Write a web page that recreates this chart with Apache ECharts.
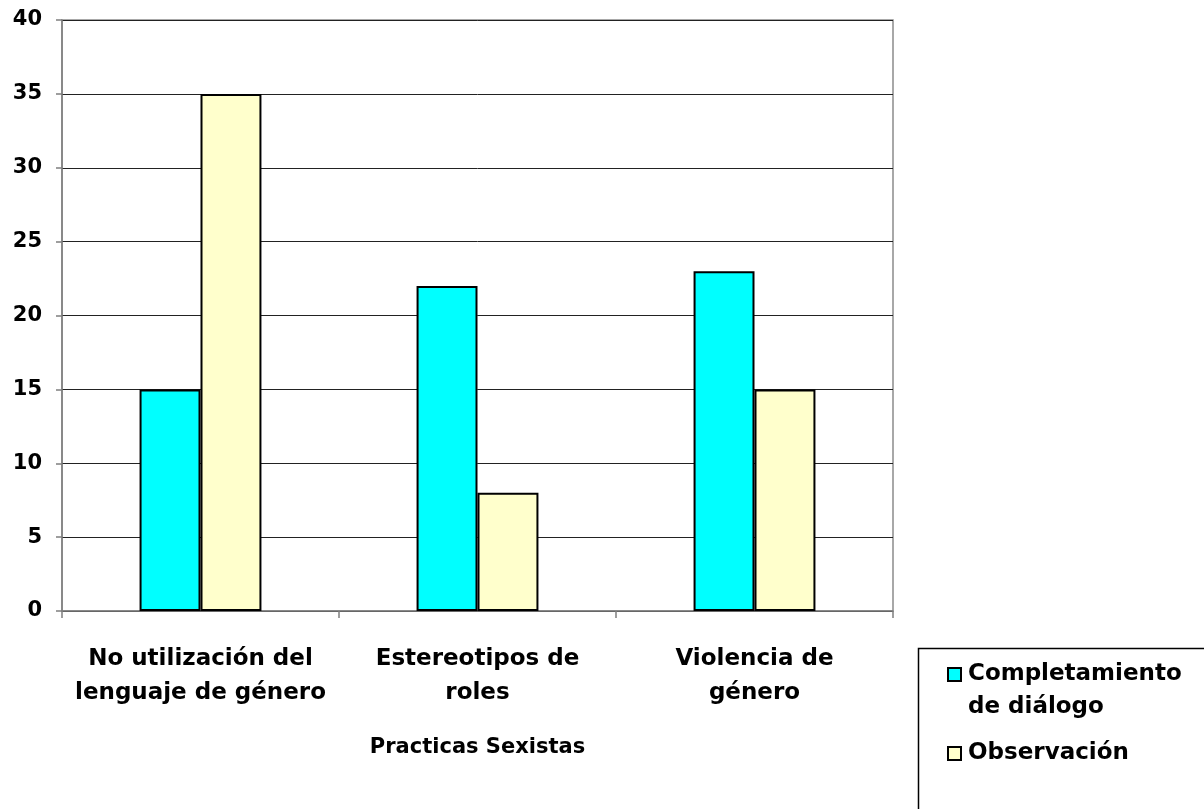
<!DOCTYPE html>
<html>
<head>
<meta charset="utf-8">
<script src="https://cdn.jsdelivr.net/npm/echarts@6/dist/echarts.min.js"></script>
<style>html,body{margin:0;padding:0;background:#fff;}#c{width:1204px;height:809px;}</style>
</head>
<body>
<div id="c"></div>
<script>
const categories = ['No utilización del\nlenguaje de género', 'Estereotipos de\nroles', 'Violencia de\ngénero'];
const completamiento = [15, 22, 23];
const observacion = [35, 8, 15];
const seriesNames = ['Completamiento de diálogo', 'Observación'];
const yTicks = { min: 0, max: 40, interval: 5 };
const xAxisTitle = 'Practicas Sexistas';

const chart = echarts.init(document.getElementById('c'));
const font = 'DejaVu Sans, Verdana, sans-serif';
const legendText = { fontFamily: font, fontWeight: 'bold', fontSize: 23, color: '#000', lineHeight: 33 };
chart.setOption({
  animation: false,
  backgroundColor: '#fff',
  grid: { left: 62, right: 311, top: 20, bottom: 198, show: true, borderColor: '#8c8c8c', borderWidth: 1.5 },
  xAxis: {
    type: 'category',
    data: categories,
    name: xAxisTitle,
    nameLocation: 'middle',
    nameGap: 126,
    nameTextStyle: { fontFamily: font, fontWeight: 'bold', fontSize: 21, color: '#000' },
    axisLine: { lineStyle: { color: '#7f7f7f', width: 1.5 } },
    axisTick: { show: true, length: 7, lineStyle: { color: '#7f7f7f', width: 1.5 } },
    axisLabel: { margin: 31, fontFamily: font, fontWeight: 'bold', fontSize: 23, color: '#000', lineHeight: 34, interval: 0 }
  },
  yAxis: {
    type: 'value',
    min: yTicks.min, max: yTicks.max, interval: yTicks.interval,
    axisLine: { show: true, lineStyle: { color: '#7f7f7f', width: 1.5 } },
    axisTick: { show: true, length: 6, lineStyle: { color: '#7f7f7f', width: 1.5 } },
    axisLabel: { margin: 20, fontFamily: font, fontWeight: 'bold', fontSize: 21, color: '#000' },
    splitLine: { lineStyle: { color: '#222', width: 1 } }
  },
  legend: [{
    left: 942, top: 653,
    itemWidth: 15, itemHeight: 46, itemGap: 0,
    icon: 'path://M0,0L13,0L13,13L0,13Z M15,46L15,46',
    textStyle: legendText,
    formatter: function () { return 'Completamiento\nde diálogo'; },
    data: [seriesNames[0]]
  }, {
    left: 942, top: 732,
    itemWidth: 15, itemHeight: 13, itemGap: 0,
    icon: 'path://M0,0L13,0L13,13L0,13Z M15,13L15,13',
    textStyle: legendText,
    data: [seriesNames[1]]
  }],
  graphic: [{
    type: 'rect',
    shape: { x: 918.5, y: 648.5, width: 300, height: 200 },
    style: { fill: 'none', stroke: '#000', lineWidth: 1.5 },
    z: -1
  }],
  series: [
    { name: seriesNames[0], type: 'bar', data: completamiento, barGap: '0%', barCategoryGap: '56%',
      itemStyle: { color: '#00ffff', borderColor: '#000', borderWidth: 2 } },
    { name: seriesNames[1], type: 'bar', data: observacion,
      itemStyle: { color: '#ffffcc', borderColor: '#000', borderWidth: 2 } }
  ]
});
</script>
</body>
</html>
